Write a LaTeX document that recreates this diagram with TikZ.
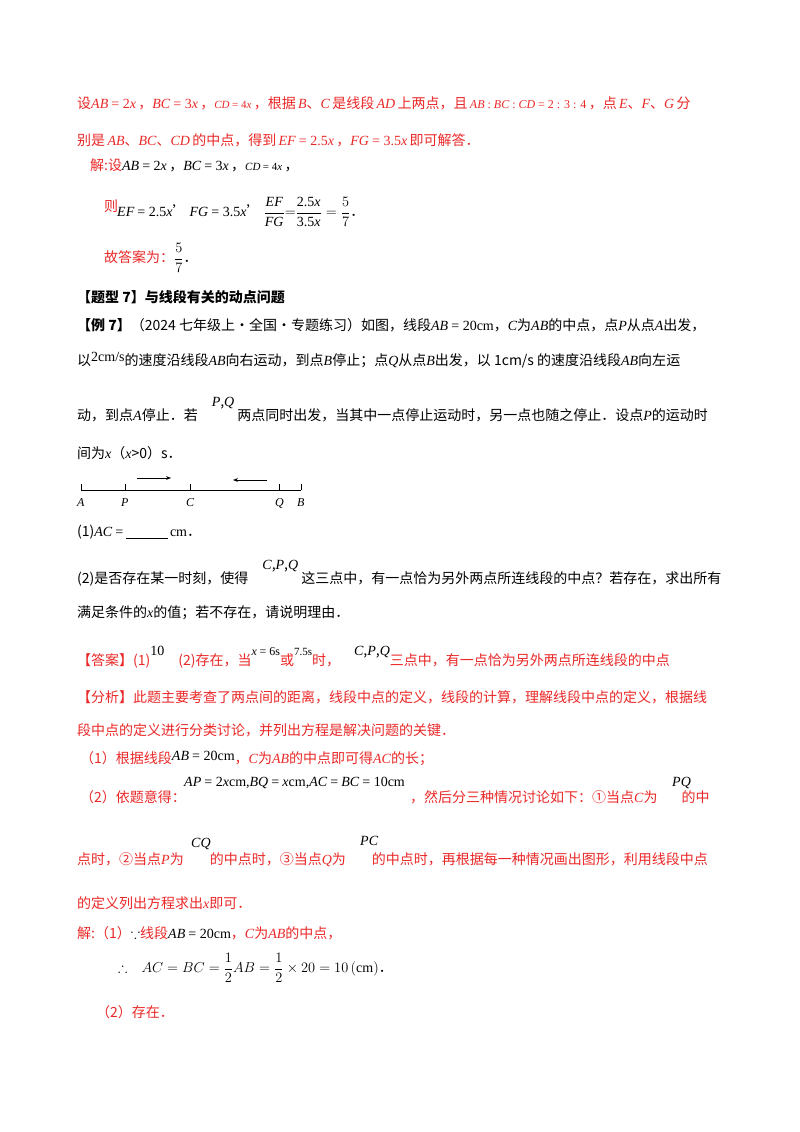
\documentclass[tikz,border=0pt]{standalone}
\usepackage{amsmath,amssymb}
\usepackage{fontspec}
\setmainfont{Noto Sans CJK SC}
\newfontfamily\mf{Liberation Serif}
\usetikzlibrary{arrows.meta}
\definecolor{rd}{RGB}{235,40,40}
\newcommand{\m}[1]{{\mf\itshape #1}}
\newcommand{\n}[1]{{\mf #1}}
\begin{document}
\begin{tikzpicture}[x=1pt,y=-1pt,
 t/.style={anchor=west,inner sep=0pt,font=\fontsize{14}{16}\selectfont},
 r/.style={t,text=rd},
 s/.style={t,font=\fontsize{12}{14}\selectfont}]
\useasboundingbox[fill=white] (0,0) rectangle (800,1132);
\node[r] (l1) at (77,103) {设\m{AB} \n{= 2}\m{x}\,，\m{BC} \n{= 3}\m{x}\,，{\fontsize{11}{12}\selectfont\m{CD} \n{= 4}\m{x}}\,，根据\,\m{B}、\m{C}\,是线段\,\m{AD}\,上两点，且\,{\fontsize{12}{12}\selectfont\m{AB}\n{ : }\m{BC}\n{ : }\m{CD} \n{= 2 : 3 : 4}}\,，点\,\m{E}、\m{F}、\m{G}\,分};
\node[r] (l2) at (77,140) {别是\,\m{AB}、\m{BC}、\m{CD}\,的中点，得到\,\m{EF} \n{= 2.5}\m{x}\,，\m{FG} \n{= 3.5}\m{x}\,即可解答．};
\node[r] (l3) at (90,165) {解:设\textcolor{black}{\m{AB} \n{= 2}\m{x}\,，\m{BC} \n{= 3}\m{x}\,，{\fontsize{11}{12}\selectfont\m{CD} \n{= 4}\m{x}}\,，}};
\node[r] (l4) at (104,206) {则};
\node[t] (l4b) at (117,212) {\m{EF} \n{= 2.5}\m{x}’ \m{FG} \n{= 3.5}\m{x}’ $\displaystyle\frac{\text{\m{EF}}}{\text{\m{FG}}}{=}\frac{\text{\n{2.5}\m{x}}}{\text{\n{3.5}\m{x}}}=\frac{5}{7}$．};
\node[r] (l5) at (104,258) {故答案为：\textcolor{black}{$\displaystyle\frac{5}{7}$．}};
\node[t] (h7) at (77,297) {\bfseries【题型 7】与线段有关的动点问题};
\node[t] (e1) at (77,325) {\bfseries【例 7】\mdseries（2024 七年级上·全国·专题练习）如图，线段\m{AB} \n{= 20cm}，\m{C}为\m{AB}的中点，点\m{P}从点\m{A}出发，};
\node[t] (e2) at (77,360) {以\raisebox{4pt}{\n{2cm/s}}的速度沿线段\m{AB}向右运动，到点\m{B}停止；点\m{Q}从点\m{B}出发，以 1cm/s 的速度沿线段\m{AB}向左运};
\node[t] (e3) at (77,410) {动，到点\m{A}停止．若\quad\raisebox{14pt}{\m{P},\m{Q}}\ 两点同时出发，当其中一点停止运动时，另一点也随之停止．设点\m{P}的运动时};
\node[t] (e4) at (77,453) {间为\m{x}（\m{x}>0）s．};
% diagram
\coordinate (A) at (81,490); \coordinate (B) at (301,490);
\draw[line width=0.8pt] (A) -- (B);
\foreach \p/\xx in {A/81,P/125,C/190,Q/279,B/301}{
 \draw[line width=0.8pt] (\xx,490) -- (\xx,484);
 \node[s] (lab\p) at (\xx-4,503) {\m{\p}};}
\coordinate (r1) at (137,478); \coordinate (r2) at (171,478);
\coordinate (q1) at (267,480); \coordinate (q2) at (233,480);
\draw[-{Stealth[length=5pt]},line width=0.6pt] (r1) -- (r2);
\draw[-{Stealth[length=5pt]},line width=0.6pt] (q1) -- (q2);
\node[t] (p1) at (77,532) {(1)\m{AC} \n{=}\,\underline{\hspace{42pt}}\,\n{cm}．};
\node[t] (p2) at (77,573) {(2)是否存在某一时刻，使得\quad\raisebox{14pt}{\m{C},\m{P},\m{Q}}\ 这三点中，有一点恰为另外两点所连线段的中点？若存在，求出所有};
\node[t] (p3) at (77,613) {满足条件的\m{x}的值；若不存在，请说明理由．};
\node[r] (an) at (77,657) {【答案】(1)\textcolor{black}{\raisebox{10pt}{\n{10}}}\quad(2)存在，当\textcolor{black}{\raisebox{10pt}{\fontsize{12}{12}\selectfont\m{x} \n{= 6s}}}或\textcolor{black}{\raisebox{10pt}{\fontsize{11}{12}\selectfont\n{7.5s}}}时，\quad\textcolor{black}{\raisebox{10pt}{\m{C},\m{P},\m{Q}}}三点中，有一点恰为另外两点所连线段的中点};
\node[r] (f1) at (77,697) {【分析】此题主要考查了两点间的距离，线段中点的定义，线段的计算，理解线段中点的定义，根据线};
\node[r] (f2) at (77,730) {段中点的定义进行分类讨论，并列出方程是解决问题的关键．};
\node[r] (f3) at (80,758) {（1）根据线段\textcolor{black}{\raisebox{3pt}{\m{AB} \n{= 20cm}}}，\m{C}为\m{AB}的中点即可得\m{AC}的长；};
\node[r] (f4) at (80,797) {（2）依题意得：};
\node[t] (f4m) at (184,783) {\m{AP} \n{= 2}\m{x}\n{cm,}\m{BQ} \n{=} \m{x}\n{cm,}\m{AC} \n{=} \m{BC} \n{= 10cm}};
\node[r] (f4b) at (410,797) {，然后分三种情况讨论如下：①当点\m{C}为\hspace{24pt}的中};
\node[t] (pq) at (672,783) {\m{PQ}};
\node[r] (f5) at (77,860) {点时，②当点\m{P}为\hspace{26pt}的中点时，③当点\m{Q}为\hspace{26pt}的中点时，再根据每一种情况画出图形，利用线段中点};
\node[t] (cq) at (191,844) {\m{CQ}};
\node[t] (pc) at (360,841) {\m{PC}};
\node[r] (f6) at (77,903) {的定义列出方程求出\m{x}即可．};
\node[r] (s1) at (77,933) {解:（1）\textcolor{black}{$\because$}线段\textcolor{black}{\m{AB} \n{= 20cm}}，\m{C}为\m{AB}的中点，};
\node[t] (s2) at (118,968) {$\therefore$\quad $AC=BC=\dfrac{1}{2}AB=\dfrac{1}{2}\times 20=10\left(\text{\n{cm}}\right)$．};
\node[r] (s3) at (96,1012) {（2）存在．};
\end{tikzpicture}
\end{document}
